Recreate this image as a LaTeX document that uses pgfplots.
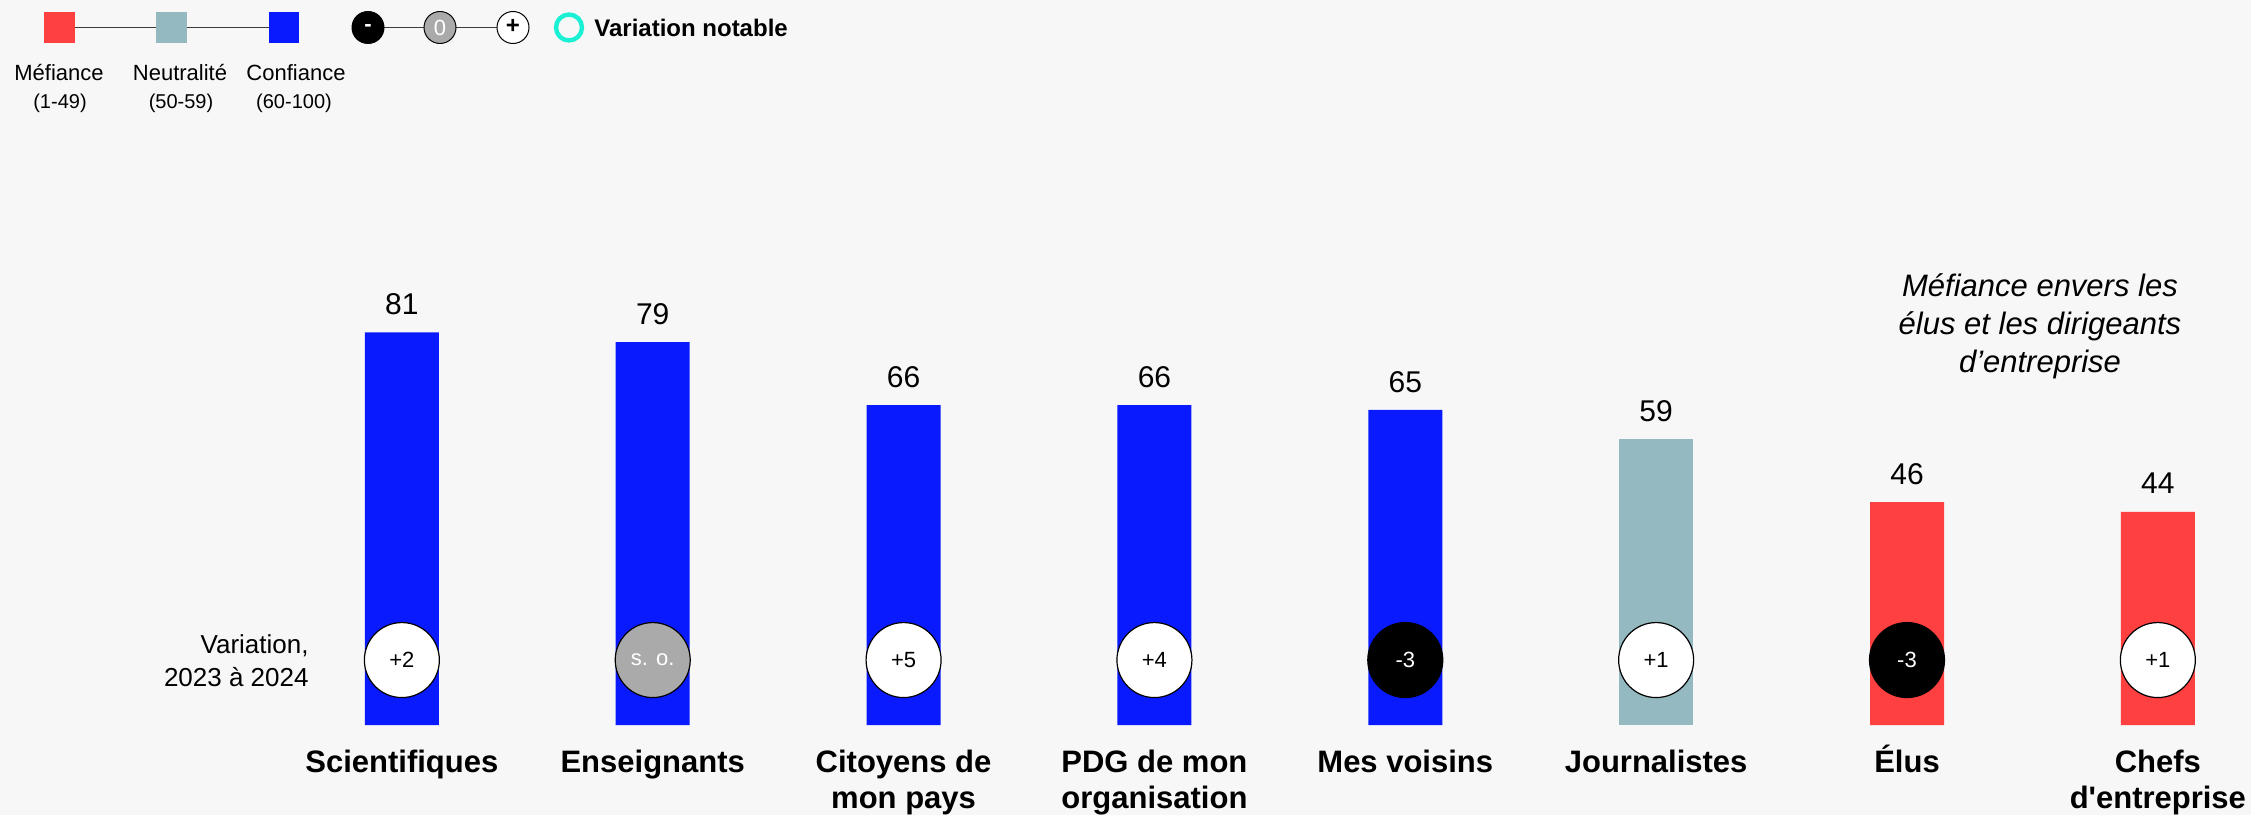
\documentclass[border=0pt]{standalone}
\usepackage{pgfplots}
\pgfplotsset{compat=1.18}
\usepackage{fontspec}
\setmainfont{Liberation Sans}
\definecolor{cblue}{RGB}{10,26,255}
\definecolor{cred}{RGB}{255,64,64}
\definecolor{cteal}{RGB}{148,185,192}
\definecolor{cgray}{RGB}{170,170,170}
\definecolor{bgc}{RGB}{247,247,247}
\definecolor{aqua}{RGB}{26,240,212}
\definecolor{lgray}{RGB}{60,60,60}
\newcommand{\tl}[2]{\begin{tabular}[t]{@{}c@{}}#1\\#2\end{tabular}}
\begin{document}
\begin{tikzpicture}
\fill[bgc] (0,0) rectangle (1125.5pt,407.5pt);
% legend
\draw[lgray, line width=0.8pt] (30pt,393.75pt) -- (142pt,393.75pt);
\fill[cred] (22pt,386pt) rectangle (37.5pt,401.5pt);
\fill[cteal] (78pt,386pt) rectangle (93.5pt,401.5pt);
\fill[cblue] (134.5pt,386pt) rectangle (149.5pt,401.5pt);
\node[font=\fontsize{11}{13}\selectfont] at (29.5pt,371pt) {Méfiance};
\node[font=\fontsize{10}{12}\selectfont] at (30pt,356pt) {(1-49)};
\node[font=\fontsize{11}{13}\selectfont] at (90pt,371pt) {Neutralité};
\node[font=\fontsize{10}{12}\selectfont] at (90.5pt,356pt) {(50-59)};
\node[font=\fontsize{11}{13}\selectfont] at (148pt,371pt) {Confiance};
\node[font=\fontsize{10}{12}\selectfont] at (147pt,356pt) {(60-100)};
\draw[lgray, line width=0.8pt] (184pt,393.75pt) -- (256.5pt,393.75pt);
\filldraw[fill=black, draw=black, line width=0.5pt] (184pt,393.75pt) circle (8pt);
\node[text=white, font=\bfseries\fontsize{11}{13}\selectfont] at (184pt,393.75pt) {-};
\filldraw[fill=cgray, draw=black, line width=0.5pt] (220pt,393.75pt) circle (8pt);
\node[text=white, font=\fontsize{11}{13}\selectfont] at (220pt,393.75pt) {0};
\filldraw[fill=white, draw=black, line width=0.5pt] (256.5pt,393.75pt) circle (8pt);
\node[text=black, font=\bfseries\fontsize{12}{13}\selectfont] at (256.5pt,394.25pt) {+};
\draw[aqua, line width=2.2pt] (284.5pt,393.75pt) circle (6.5pt);
\node[anchor=west, inner sep=0pt, font=\bfseries\fontsize{12}{14}\selectfont] at (297pt,393.75pt) {Variation notable};
% variation label
\node[anchor=east, align=right, inner sep=0pt, font=\fontsize{13}{16.5}\selectfont] at (154.5pt,77.25pt) {Variation,\\2023 à 2024};
% annotation
\node[anchor=base, align=center, inner sep=0pt, font=\itshape\fontsize{15.5}{19}\selectfont] at (1020pt,221.25pt) {Méfiance envers les\\élus et les dirigeants\\d’entreprise};
\begin{axis}[at={(0,0)}, anchor=south west, scale only axis,
  width=1125.5pt, height=407.5pt,
  xmin=-1.602, xmax=7.371, ymin=-18.57, ymax=149.6,
  axis line style={draw=none}, major tick length=0pt,
  ytick=\empty, xtick={0,...,7},
  xticklabels={Scientifiques,Enseignants,{\tl{Citoyens de}{mon pays}},{\tl{PDG de mon}{organisation}},Mes voisins,Journalistes,Élus,{\tl{Chefs}{d\textquotesingle entreprise}}},
  xticklabel style={anchor=base, yshift=21.25pt, inner sep=0pt, font=\bfseries\fontsize{15.5}{18}\selectfont},
  clip=false,
  /pgf/number format/assume math mode=true,
  nodes near coords style={font=\fontsize{15}{17}\selectfont},
]
\addplot[ybar, bar width=37pt, bar shift=0pt, fill=cblue, draw=none,
  nodes near coords, every node near coord/.append style={anchor=base, yshift=8.9pt, inner sep=0pt}]
  coordinates {(0,81) (1,79) (2,66) (3,66) (4,65)};
\addplot[ybar, bar width=37pt, bar shift=0pt, fill=cteal, draw=none,
  nodes near coords, every node near coord/.append style={anchor=base, yshift=8.9pt, inner sep=0pt}]
  coordinates {(5,59)};
\addplot[ybar, bar width=37pt, bar shift=0pt, fill=cred, draw=none,
  nodes near coords, every node near coord/.append style={anchor=base, yshift=8.9pt, inner sep=0pt}]
  coordinates {(6,46) (7,44)};
% variation circles
\addplot[only marks, mark=*, mark size=18.75pt, mark options={fill=white, draw=black, line width=0.6pt},
  point meta=explicit symbolic, nodes near coords,
  every node near coord/.append style={anchor=center, text=black, font=\fontsize{11}{13}\selectfont}]
  table[meta=lab] {
x y lab
0 13.4 +2
2 13.4 +5
3 13.4 +4
5 13.4 +1
7 13.4 +1
};
\addplot[only marks, mark=*, mark size=18.75pt, mark options={fill=cgray, draw=black, line width=0.6pt},
  point meta=explicit symbolic, nodes near coords,
  every node near coord/.append style={anchor=center, text=white, font=\fontsize{11}{13}\selectfont}]
  table[meta=lab] {
x y lab
1 13.4 {s. o.}
};
\addplot[only marks, mark=*, mark size=18.75pt, mark options={fill=black, draw=black, line width=0.6pt},
  point meta=explicit symbolic, nodes near coords,
  every node near coord/.append style={anchor=center, text=white, font=\fontsize{11}{13}\selectfont}]
  table[meta=lab] {
x y lab
4 13.4 -3
6 13.4 -3
};
\end{axis}
\pgfresetboundingbox
\useasboundingbox (0,0) rectangle (1125.5pt,407.5pt);
\end{tikzpicture}
\end{document}
